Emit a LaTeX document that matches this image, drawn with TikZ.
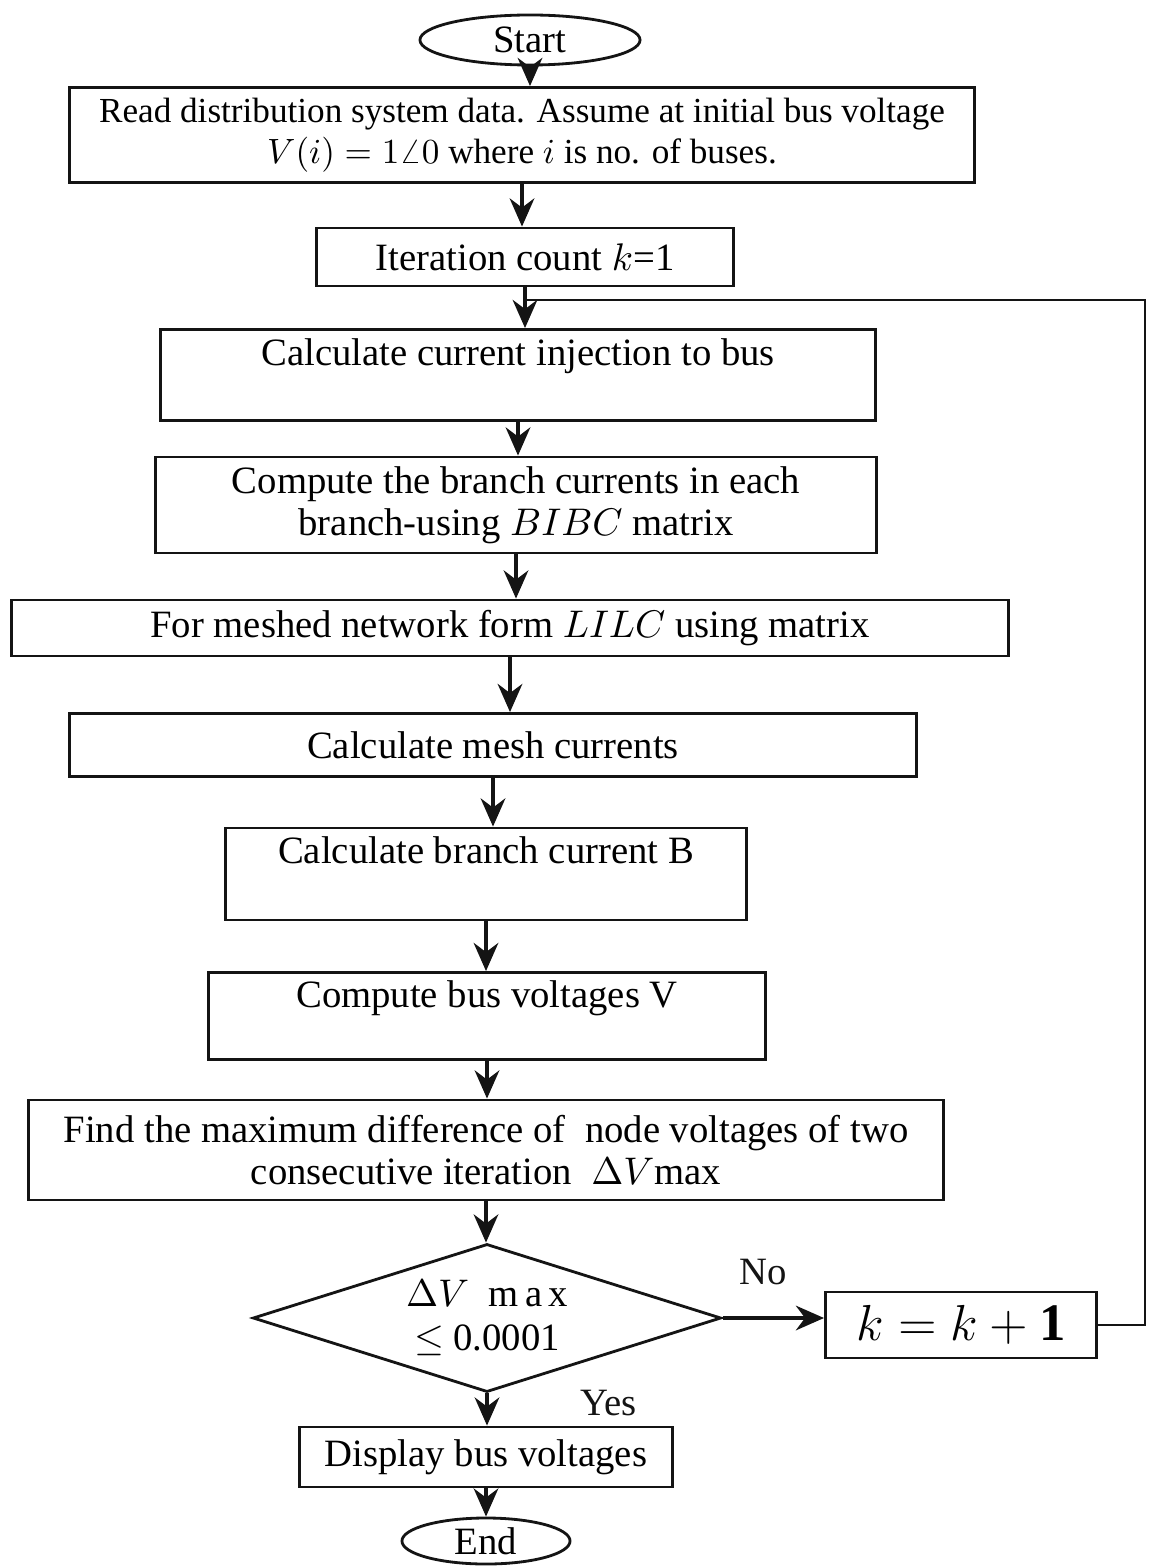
\documentclass[tikz,border=0pt]{standalone}
\usepackage{fontspec}
\setmainfont{Liberation Serif}
\usepackage{amsmath}
\usepackage{tikz}
\usetikzlibrary{shapes.geometric, arrows.meta, positioning, calc}
\definecolor{mydark}{RGB}{20,20,20}
\tikzset{
  block/.style={rectangle, draw=mydark, fill=white, align=center,
    font=\fontsize{11}{12}\selectfont, line width=0.8pt, inner sep=2pt},
  terminal/.style={ellipse, draw=mydark, fill=white,
    font=\fontsize{11}{12}\selectfont, line width=0.8pt, inner sep=0pt},
  decision/.style={diamond, draw=mydark, fill=white, align=center, aspect=3.16,
    font=\fontsize{11}{12.5}\selectfont, line width=0.8pt, inner sep=0pt},
  arrow/.style={-{Stealth[length=8pt,width=7pt]}, line width=1pt, color=mydark},
  line/.style={line width=0.6pt, color=mydark}
}
\begin{document}
\begin{tikzpicture}[x=0.01cm, y=-0.01cm]
  \useasboundingbox (0,0) rectangle (1150,1567);

  % Start and set-up
  \node[terminal, minimum width=2.2cm, minimum height=0.5cm] (start) at (530,40) {Start};
  \node[block, minimum width=9.05cm, minimum height=0.95cm, font=\fontsize{10}{11.6}\selectfont]
    (read) at (522,135)
    {Read distribution system data. Assume at initial bus voltage\\
     $V(i)=1\angle 0$ where $i$ is no. of buses.};
  \node[block, minimum width=4.17cm, minimum height=0.58cm] (iter) at (525,257)
    {Iteration count $k$=1};

  % Current calculations
  \node[block, minimum width=7.15cm, minimum height=0.91cm, text depth=0.45cm, inner ysep=0pt]
    (inj) at (518,375) {Calculate current injection to bus};
  \node[block, minimum width=7.21cm, minimum height=0.96cm] (bibc) at (516,505)
    {Compute the branch currents in each\\ branch-using $BIBC$ matrix};
  \node[block, minimum width=9.96cm, minimum height=0.56cm] (lilc) at (510,628)
    {For meshed network form $LILC$ using matrix};
  \node[block, minimum width=8.47cm, minimum height=0.63cm] (mesh) at (493,745)
    {Calculate mesh currents};
  \node[block, minimum width=5.2cm, minimum height=0.92cm, text depth=0.47cm, inner ysep=0pt]
    (branch) at (486,874) {Calculate branch current B};

  % Voltages and convergence
  \node[block, minimum width=5.57cm, minimum height=0.87cm, text depth=0.43cm, inner ysep=0pt]
    (volt) at (487,1016) {Compute bus voltages V};
  \node[block, minimum width=9.14cm, minimum height=1.0cm] (diff) at (486,1150)
    {Find the maximum difference of \ node voltages of two\\
     consecutive iteration \ $\Delta V$max};
  \node[decision, minimum width=4.68cm, minimum height=1.48cm] (conv) at (487,1318)
    {$\Delta V$ \ m\,a\,x\\ $\leq$ 0.0001};
  \node[block, minimum width=2.71cm, minimum height=0.66cm, font=\fontsize{15}{16}\selectfont]
    (kinc) at (961,1325) {$k=k+\mathbf{1}$};
  \node[block, minimum width=3.73cm, minimum height=0.6cm] (disp) at (486,1457)
    {Display bus voltages};
  \node[terminal, minimum width=1.68cm, minimum height=0.46cm] (stop) at (486,1541) {End};

  % Main flow
  \draw[arrow] (start) -- (start |- read.north);
  \draw[arrow] (read) -- (read |- iter.north);
  \draw[arrow] (iter) -- (iter |- inj.north);
  \draw[arrow] (inj) -- (inj |- bibc.north);
  \draw[arrow] (bibc) -- (bibc |- lilc.north);
  \draw[arrow] (lilc) -- (lilc |- mesh.north);
  \draw[arrow] (mesh) -- (mesh |- branch.north);
  \draw[arrow] (branch) -- (branch |- volt.north);
  \draw[arrow] (volt) -- (volt |- diff.north);
  \draw[arrow] (diff) -- (diff |- conv.north);
  \draw[arrow] (conv.south) -- (conv.south |- disp.north)
    node[pos=0.3, right=0.8cm, font=\fontsize{11}{12}\selectfont] {Yes};
  \draw[arrow] (disp) -- (disp |- stop.north);

  % Loop back when not converged
  \draw[arrow] (conv.east) -- (conv.east -| kinc.west)
    node[pos=0.4, above=0.2cm, font=\fontsize{11}{12}\selectfont] {No};
  \coordinate (loopin) at (525,300);
  \coordinate (loopcorner) at (1145,300);
  \draw[line] (kinc.east) -| (loopcorner) -- (loopin);
\end{tikzpicture}
\end{document}
